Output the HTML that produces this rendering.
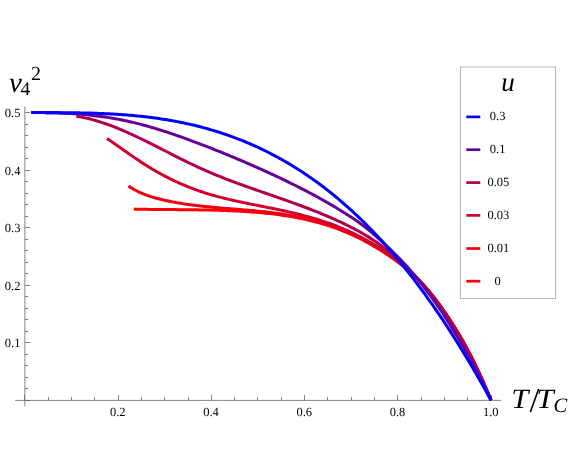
<!DOCTYPE html>
<html><head><meta charset="utf-8"><title>plot</title>
<style>html,body{margin:0;padding:0;background:#fff;}body{width:572px;height:468px;position:relative;overflow:hidden;font-family:"Liberation Serif",serif;}</style></head>
<body>
<svg width="572" height="468" viewBox="0 0 572 468" style="position:absolute;left:0;top:0;will-change:transform;text-rendering:geometricPrecision">
<g stroke="#666666" stroke-width="0.8" fill="none">
<line x1="15.2" y1="400.38" x2="501.1" y2="400.38"/>
<line x1="24.89" y1="106.5" x2="24.89" y2="406.2"/>
<line x1="24.50" y1="400.4" x2="24.50" y2="395.00"/>
<line x1="48.50" y1="400.4" x2="48.50" y2="397.10"/>
<line x1="71.50" y1="400.4" x2="71.50" y2="397.10"/>
<line x1="94.50" y1="400.4" x2="94.50" y2="397.10"/>
<line x1="118.50" y1="400.4" x2="118.50" y2="395.00"/>
<line x1="141.50" y1="400.4" x2="141.50" y2="397.10"/>
<line x1="164.50" y1="400.4" x2="164.50" y2="397.10"/>
<line x1="188.50" y1="400.4" x2="188.50" y2="397.10"/>
<line x1="211.50" y1="400.4" x2="211.50" y2="395.00"/>
<line x1="234.50" y1="400.4" x2="234.50" y2="397.10"/>
<line x1="257.50" y1="400.4" x2="257.50" y2="397.10"/>
<line x1="281.50" y1="400.4" x2="281.50" y2="397.10"/>
<line x1="304.50" y1="400.4" x2="304.50" y2="395.00"/>
<line x1="327.50" y1="400.4" x2="327.50" y2="397.10"/>
<line x1="351.50" y1="400.4" x2="351.50" y2="397.10"/>
<line x1="374.50" y1="400.4" x2="374.50" y2="397.10"/>
<line x1="397.50" y1="400.4" x2="397.50" y2="395.00"/>
<line x1="421.50" y1="400.4" x2="421.50" y2="397.10"/>
<line x1="444.50" y1="400.4" x2="444.50" y2="397.10"/>
<line x1="467.50" y1="400.4" x2="467.50" y2="397.10"/>
<line x1="491.50" y1="400.4" x2="491.50" y2="395.00"/>
<line x1="24.9" y1="400.50" x2="30.30" y2="400.50"/>
<line x1="24.9" y1="388.50" x2="28.20" y2="388.50"/>
<line x1="24.9" y1="377.50" x2="28.20" y2="377.50"/>
<line x1="24.9" y1="365.50" x2="28.20" y2="365.50"/>
<line x1="24.9" y1="354.50" x2="28.20" y2="354.50"/>
<line x1="24.9" y1="342.50" x2="30.30" y2="342.50"/>
<line x1="24.9" y1="331.50" x2="28.20" y2="331.50"/>
<line x1="24.9" y1="319.50" x2="28.20" y2="319.50"/>
<line x1="24.9" y1="308.50" x2="28.20" y2="308.50"/>
<line x1="24.9" y1="296.50" x2="28.20" y2="296.50"/>
<line x1="24.9" y1="285.50" x2="30.30" y2="285.50"/>
<line x1="24.9" y1="273.50" x2="28.20" y2="273.50"/>
<line x1="24.9" y1="262.50" x2="28.20" y2="262.50"/>
<line x1="24.9" y1="250.50" x2="28.20" y2="250.50"/>
<line x1="24.9" y1="239.50" x2="28.20" y2="239.50"/>
<line x1="24.9" y1="227.50" x2="30.30" y2="227.50"/>
<line x1="24.9" y1="216.50" x2="28.20" y2="216.50"/>
<line x1="24.9" y1="204.50" x2="28.20" y2="204.50"/>
<line x1="24.9" y1="193.50" x2="28.20" y2="193.50"/>
<line x1="24.9" y1="181.50" x2="28.20" y2="181.50"/>
<line x1="24.9" y1="170.50" x2="30.30" y2="170.50"/>
<line x1="24.9" y1="158.50" x2="28.20" y2="158.50"/>
<line x1="24.9" y1="147.50" x2="28.20" y2="147.50"/>
<line x1="24.9" y1="135.50" x2="28.20" y2="135.50"/>
<line x1="24.9" y1="124.50" x2="28.20" y2="124.50"/>
<line x1="24.9" y1="112.50" x2="30.30" y2="112.50"/>
</g>
<g fill="none" stroke-width="3.0" stroke-linecap="butt" stroke-linejoin="round">
<path d="M133.80,209.10 L135.80,209.14 L137.80,209.19 L139.80,209.23 L141.80,209.26 L143.80,209.29 L145.80,209.33 L147.80,209.35 L149.80,209.38 L151.80,209.41 L153.80,209.43 L155.80,209.45 L157.80,209.47 L159.80,209.49 L161.80,209.51 L163.80,209.53 L165.80,209.54 L167.80,209.56 L169.80,209.57 L171.80,209.59 L173.80,209.61 L175.80,209.62 L177.80,209.64 L179.80,209.65 L181.80,209.67 L183.80,209.69 L185.80,209.71 L187.80,209.73 L189.80,209.75 L191.80,209.77 L193.80,209.80 L195.80,209.82 L197.80,209.85 L199.80,209.88 L201.80,209.91 L203.80,209.95 L205.80,209.99 L207.80,210.03 L209.80,210.07 L211.80,210.12 L213.80,210.17 L215.80,210.22 L217.80,210.28 L219.80,210.34 L221.80,210.40 L223.80,210.47 L225.80,210.55 L227.80,210.63 L229.80,210.71 L231.80,210.80 L233.80,210.89 L235.80,210.99 L237.80,211.09 L239.80,211.20 L241.80,211.31 L243.80,211.43 L245.80,211.56 L247.80,211.69 L249.80,211.83 L251.80,211.98 L253.80,212.13 L255.80,212.29 L257.80,212.46 L259.80,212.63 L261.80,212.81 L263.80,213.00 L265.80,213.20 L267.80,213.41 L269.80,213.63 L271.80,213.85 L273.80,214.09 L275.80,214.34 L277.80,214.59 L279.80,214.86 L281.80,215.14 L283.80,215.43 L285.80,215.74 L287.80,216.05 L289.80,216.38 L291.80,216.72 L293.80,217.08 L295.80,217.44 L297.80,217.83 L299.80,218.22 L301.80,218.63 L303.80,219.06 L305.80,219.50 L307.80,219.96 L309.80,220.43 L311.80,220.92 L313.80,221.43 L315.80,221.95 L317.80,222.50 L319.80,223.05 L321.80,223.63 L323.80,224.23 L325.80,224.84 L327.80,225.48 L329.80,226.13 L331.80,226.80 L333.80,227.49 L335.80,228.21 L337.80,228.94 L339.80,229.70 L341.80,230.48 L343.80,231.27 L345.80,232.10 L347.80,232.94 L349.80,233.81 L351.80,234.70 L353.80,235.61 L355.80,236.55 L357.80,237.51 L359.80,238.50 L361.80,239.51 L363.80,240.54 L365.80,241.61 L367.80,242.70 L369.80,243.81 L371.80,244.95 L373.80,246.11 L375.80,247.30 L377.80,248.52 L379.80,249.76 L381.80,251.03 L383.80,252.32 L385.80,253.63 L387.80,254.97 L389.80,256.34 L391.80,257.73 L393.80,259.14 L395.80,260.57 L397.80,262.03 L399.80,263.52 L401.80,265.03 L403.80,266.58 L405.80,268.17 L407.80,269.80 L409.80,271.49 L411.80,273.24 L413.80,275.04 L415.80,276.92 L417.80,278.87 L419.80,280.90 L421.80,283.01 L423.80,285.20 L425.80,287.46 L427.80,289.80 L429.80,292.21 L431.80,294.69 L433.80,297.24 L435.80,299.85 L437.80,302.52 L439.80,305.25 L441.80,308.04 L443.80,310.89 L445.80,313.79 L447.80,316.75 L449.80,319.77 L451.80,322.85 L453.80,326.00 L455.80,329.22 L457.80,332.51 L459.80,335.88 L461.80,339.32 L463.80,342.85 L465.80,346.46 L467.80,350.15 L469.80,353.94 L471.80,357.82 L473.80,361.79 L475.80,365.86 L477.80,370.03 L479.80,374.31 L481.80,378.69 L483.80,383.18 L485.80,387.78 L487.80,392.50 L489.80,397.34 L491.00,400.30" stroke="#ff0000"/>
<path d="M128.50,186.10 L130.50,187.38 L132.50,188.59 L134.50,189.72 L136.50,190.77 L138.50,191.77 L140.50,192.70 L142.50,193.56 L144.50,194.38 L146.50,195.14 L148.50,195.85 L150.50,196.52 L152.50,197.14 L154.50,197.73 L156.50,198.28 L158.50,198.80 L160.50,199.30 L162.50,199.77 L164.50,200.23 L166.50,200.66 L168.50,201.08 L170.50,201.49 L172.50,201.88 L174.50,202.25 L176.50,202.62 L178.50,202.96 L180.50,203.30 L182.50,203.62 L184.50,203.93 L186.50,204.22 L188.50,204.51 L190.50,204.79 L192.50,205.05 L194.50,205.31 L196.50,205.55 L198.50,205.79 L200.50,206.02 L202.50,206.24 L204.50,206.45 L206.50,206.66 L208.50,206.86 L210.50,207.05 L212.50,207.24 L214.50,207.43 L216.50,207.61 L218.50,207.78 L220.50,207.95 L222.50,208.12 L224.50,208.29 L226.50,208.46 L228.50,208.62 L230.50,208.78 L232.50,208.94 L234.50,209.10 L236.50,209.26 L238.50,209.43 L240.50,209.59 L242.50,209.75 L244.50,209.92 L246.50,210.09 L248.50,210.26 L250.50,210.43 L252.50,210.61 L254.50,210.80 L256.50,210.98 L258.50,211.18 L260.50,211.37 L262.50,211.58 L264.50,211.79 L266.50,212.01 L268.50,212.23 L270.50,212.47 L272.50,212.71 L274.50,212.96 L276.50,213.22 L278.50,213.49 L280.50,213.77 L282.50,214.06 L284.50,214.36 L286.50,214.67 L288.50,214.99 L290.50,215.33 L292.50,215.68 L294.50,216.04 L296.50,216.42 L298.50,216.81 L300.50,217.21 L302.50,217.63 L304.50,218.07 L306.50,218.52 L308.50,218.99 L310.50,219.47 L312.50,219.98 L314.50,220.50 L316.50,221.03 L318.50,221.59 L320.50,222.17 L322.50,222.76 L324.50,223.38 L326.50,224.02 L328.50,224.67 L330.50,225.35 L332.50,226.05 L334.50,226.78 L336.50,227.52 L338.50,228.29 L340.50,229.08 L342.50,229.90 L344.50,230.74 L346.50,231.61 L348.50,232.50 L350.50,233.41 L352.50,234.35 L354.50,235.31 L356.50,236.30 L358.50,237.31 L360.50,238.34 L362.50,239.39 L364.50,240.47 L366.50,241.57 L368.50,242.68 L370.50,243.82 L372.50,244.98 L374.50,246.16 L376.50,247.36 L378.50,248.58 L380.50,249.82 L382.50,251.08 L384.50,252.36 L386.50,253.66 L388.50,254.98 L390.50,256.32 L392.50,257.70 L394.50,259.10 L396.50,260.55 L398.50,262.03 L400.50,263.55 L402.50,265.12 L404.50,266.73 L406.50,268.40 L408.50,270.12 L410.50,271.89 L412.50,273.73 L414.50,275.64 L416.50,277.60 L418.50,279.64 L420.50,281.74 L422.50,283.90 L424.50,286.12 L426.50,288.41 L428.50,290.76 L430.50,293.17 L432.50,295.64 L434.50,298.17 L436.50,300.76 L438.50,303.41 L440.50,306.12 L442.50,308.90 L444.50,311.75 L446.50,314.66 L448.50,317.64 L450.50,320.70 L452.50,323.82 L454.50,327.02 L456.50,330.29 L458.50,333.63 L460.50,337.06 L462.50,340.56 L464.50,344.14 L466.50,347.80 L468.50,351.55 L470.50,355.38 L472.50,359.30 L474.50,363.31 L476.50,367.41 L478.50,371.61 L480.50,375.92 L482.50,380.33 L484.50,384.84 L486.50,389.47 L488.50,394.21 L490.50,399.07 L491.00,400.30" stroke="#f0000f"/>
<path d="M106.85,138.40 L108.85,139.76 L110.85,141.14 L112.85,142.53 L114.85,143.92 L116.85,145.32 L118.85,146.72 L120.85,148.13 L122.85,149.54 L124.85,150.94 L126.85,152.35 L128.85,153.74 L130.85,155.13 L132.85,156.51 L134.85,157.88 L136.85,159.24 L138.85,160.58 L140.85,161.91 L142.85,163.22 L144.85,164.50 L146.85,165.77 L148.85,167.01 L150.85,168.22 L152.85,169.42 L154.85,170.59 L156.85,171.74 L158.85,172.86 L160.85,173.96 L162.85,175.04 L164.85,176.10 L166.85,177.14 L168.85,178.15 L170.85,179.14 L172.85,180.11 L174.85,181.06 L176.85,181.99 L178.85,182.90 L180.85,183.78 L182.85,184.65 L184.85,185.49 L186.85,186.31 L188.85,187.12 L190.85,187.90 L192.85,188.66 L194.85,189.41 L196.85,190.13 L198.85,190.83 L200.85,191.52 L202.85,192.18 L204.85,192.83 L206.85,193.45 L208.85,194.07 L210.85,194.66 L212.85,195.24 L214.85,195.80 L216.85,196.35 L218.85,196.89 L220.85,197.41 L222.85,197.92 L224.85,198.42 L226.85,198.90 L228.85,199.38 L230.85,199.85 L232.85,200.30 L234.85,200.75 L236.85,201.19 L238.85,201.62 L240.85,202.05 L242.85,202.47 L244.85,202.88 L246.85,203.29 L248.85,203.70 L250.85,204.10 L252.85,204.50 L254.85,204.89 L256.85,205.29 L258.85,205.68 L260.85,206.08 L262.85,206.47 L264.85,206.87 L266.85,207.26 L268.85,207.66 L270.85,208.06 L272.85,208.47 L274.85,208.88 L276.85,209.30 L278.85,209.72 L280.85,210.14 L282.85,210.57 L284.85,211.01 L286.85,211.46 L288.85,211.91 L290.85,212.37 L292.85,212.84 L294.85,213.32 L296.85,213.81 L298.85,214.30 L300.85,214.81 L302.85,215.33 L304.85,215.86 L306.85,216.40 L308.85,216.96 L310.85,217.52 L312.85,218.10 L314.85,218.69 L316.85,219.30 L318.85,219.92 L320.85,220.56 L322.85,221.21 L324.85,221.88 L326.85,222.56 L328.85,223.26 L330.85,223.98 L332.85,224.71 L334.85,225.47 L336.85,226.24 L338.85,227.03 L340.85,227.84 L342.85,228.67 L344.85,229.52 L346.85,230.40 L348.85,231.29 L350.85,232.21 L352.85,233.14 L354.85,234.10 L356.85,235.09 L358.85,236.10 L360.85,237.13 L362.85,238.18 L364.85,239.27 L366.85,240.37 L368.85,241.51 L370.85,242.66 L372.85,243.85 L374.85,245.06 L376.85,246.31 L378.85,247.58 L380.85,248.87 L382.85,250.20 L384.85,251.56 L386.85,252.95 L388.85,254.36 L390.85,255.81 L392.85,257.29 L394.85,258.81 L396.85,260.35 L398.85,261.93 L400.85,263.54 L402.85,265.19 L404.85,266.87 L406.85,268.60 L408.85,270.37 L410.85,272.19 L412.85,274.05 L414.85,275.97 L416.85,277.94 L418.85,279.97 L420.85,282.05 L422.85,284.20 L424.85,286.41 L426.85,288.69 L428.85,291.03 L430.85,293.45 L432.85,295.94 L434.85,298.50 L436.85,301.14 L438.85,303.86 L440.85,306.64 L442.85,309.49 L444.85,312.41 L446.85,315.38 L448.85,318.41 L450.85,321.50 L452.85,324.63 L454.85,327.82 L456.85,331.07 L458.85,334.38 L460.85,337.76 L462.85,341.21 L464.85,344.75 L466.85,348.37 L468.85,352.09 L470.85,355.90 L472.85,359.81 L474.85,363.82 L476.85,367.94 L478.85,372.17 L480.85,376.50 L482.85,380.95 L484.85,385.51 L486.85,390.20 L488.85,395.00 L490.85,399.93 L491.00,400.30" stroke="#d1002e"/>
<path d="M76.30,116.20 L78.30,116.52 L80.30,116.87 L82.30,117.25 L84.30,117.66 L86.30,118.11 L88.30,118.58 L90.30,119.07 L92.30,119.60 L94.30,120.15 L96.30,120.73 L98.30,121.33 L100.30,121.96 L102.30,122.61 L104.30,123.28 L106.30,123.98 L108.30,124.69 L110.30,125.43 L112.30,126.19 L114.30,126.97 L116.30,127.76 L118.30,128.57 L120.30,129.40 L122.30,130.25 L124.30,131.11 L126.30,131.99 L128.30,132.88 L130.30,133.78 L132.30,134.70 L134.30,135.63 L136.30,136.57 L138.30,137.52 L140.30,138.48 L142.30,139.45 L144.30,140.43 L146.30,141.41 L148.30,142.40 L150.30,143.40 L152.30,144.40 L154.30,145.41 L156.30,146.42 L158.30,147.44 L160.30,148.45 L162.30,149.47 L164.30,150.49 L166.30,151.51 L168.30,152.53 L170.30,153.55 L172.30,154.57 L174.30,155.58 L176.30,156.59 L178.30,157.60 L180.30,158.60 L182.30,159.60 L184.30,160.59 L186.30,161.57 L188.30,162.55 L190.30,163.51 L192.30,164.47 L194.30,165.42 L196.30,166.36 L198.30,167.28 L200.30,168.20 L202.30,169.10 L204.30,169.99 L206.30,170.86 L208.30,171.73 L210.30,172.58 L212.30,173.42 L214.30,174.26 L216.30,175.08 L218.30,175.89 L220.30,176.70 L222.30,177.49 L224.30,178.28 L226.30,179.06 L228.30,179.83 L230.30,180.59 L232.30,181.34 L234.30,182.09 L236.30,182.83 L238.30,183.57 L240.30,184.30 L242.30,185.03 L244.30,185.75 L246.30,186.47 L248.30,187.18 L250.30,187.89 L252.30,188.59 L254.30,189.29 L256.30,189.99 L258.30,190.69 L260.30,191.39 L262.30,192.08 L264.30,192.77 L266.30,193.47 L268.30,194.16 L270.30,194.85 L272.30,195.54 L274.30,196.24 L276.30,196.93 L278.30,197.63 L280.30,198.32 L282.30,199.02 L284.30,199.73 L286.30,200.43 L288.30,201.14 L290.30,201.85 L292.30,202.57 L294.30,203.29 L296.30,204.02 L298.30,204.75 L300.30,205.49 L302.30,206.23 L304.30,206.98 L306.30,207.74 L308.30,208.50 L310.30,209.27 L312.30,210.05 L314.30,210.84 L316.30,211.63 L318.30,212.44 L320.30,213.25 L322.30,214.07 L324.30,214.91 L326.30,215.75 L328.30,216.61 L330.30,217.47 L332.30,218.35 L334.30,219.24 L336.30,220.14 L338.30,221.06 L340.30,221.98 L342.30,222.93 L344.30,223.88 L346.30,224.85 L348.30,225.84 L350.30,226.84 L352.30,227.86 L354.30,228.90 L356.30,229.97 L358.30,231.05 L360.30,232.16 L362.30,233.30 L364.30,234.47 L366.30,235.66 L368.30,236.88 L370.30,238.14 L372.30,239.43 L374.30,240.75 L376.30,242.11 L378.30,243.51 L380.30,244.95 L382.30,246.43 L384.30,247.95 L386.30,249.51 L388.30,251.11 L390.30,252.76 L392.30,254.45 L394.30,256.17 L396.30,257.94 L398.30,259.74 L400.30,261.57 L402.30,263.44 L404.30,265.34 L406.30,267.28 L408.30,269.25 L410.30,271.25 L412.30,273.27 L414.30,275.33 L416.30,277.42 L418.30,279.54 L420.30,281.70 L422.30,283.91 L424.30,286.17 L426.30,288.48 L428.30,290.85 L430.30,293.28 L432.30,295.76 L434.30,298.31 L436.30,300.91 L438.30,303.57 L440.30,306.30 L442.30,309.08 L444.30,311.93 L446.30,314.85 L448.30,317.83 L450.30,320.87 L452.30,323.98 L454.30,327.16 L456.30,330.41 L458.30,333.73 L460.30,337.12 L462.30,340.58 L464.30,344.12 L466.30,347.74 L468.30,351.45 L470.30,355.25 L472.30,359.14 L474.30,363.13 L476.30,367.23 L478.30,371.43 L480.30,375.72 L482.30,380.12 L484.30,384.60 L486.30,389.18 L488.30,393.86 L490.30,398.61 L491.00,400.30" stroke="#b3004d"/>
<path d="M45.00,112.90 L47.00,112.90 L49.00,112.91 L51.00,112.93 L53.00,112.96 L55.00,112.99 L57.00,113.04 L59.00,113.09 L61.00,113.15 L63.00,113.22 L65.00,113.30 L67.00,113.39 L69.00,113.49 L71.00,113.60 L73.00,113.71 L75.00,113.84 L77.00,113.98 L79.00,114.12 L81.00,114.28 L83.00,114.45 L85.00,114.63 L87.00,114.82 L89.00,115.02 L91.00,115.23 L93.00,115.45 L95.00,115.68 L97.00,115.92 L99.00,116.18 L101.00,116.45 L103.00,116.73 L105.00,117.02 L107.00,117.32 L109.00,117.63 L111.00,117.96 L113.00,118.30 L115.00,118.65 L117.00,119.02 L119.00,119.39 L121.00,119.78 L123.00,120.19 L125.00,120.60 L127.00,121.03 L129.00,121.48 L131.00,121.94 L133.00,122.41 L135.00,122.89 L137.00,123.38 L139.00,123.89 L141.00,124.41 L143.00,124.94 L145.00,125.49 L147.00,126.04 L149.00,126.61 L151.00,127.19 L153.00,127.77 L155.00,128.37 L157.00,128.98 L159.00,129.60 L161.00,130.22 L163.00,130.86 L165.00,131.51 L167.00,132.16 L169.00,132.82 L171.00,133.49 L173.00,134.17 L175.00,134.86 L177.00,135.55 L179.00,136.25 L181.00,136.96 L183.00,137.67 L185.00,138.39 L187.00,139.12 L189.00,139.85 L191.00,140.59 L193.00,141.33 L195.00,142.08 L197.00,142.83 L199.00,143.59 L201.00,144.35 L203.00,145.12 L205.00,145.89 L207.00,146.66 L209.00,147.44 L211.00,148.22 L213.00,149.01 L215.00,149.80 L217.00,150.59 L219.00,151.39 L221.00,152.20 L223.00,153.00 L225.00,153.82 L227.00,154.63 L229.00,155.45 L231.00,156.28 L233.00,157.11 L235.00,157.94 L237.00,158.78 L239.00,159.63 L241.00,160.48 L243.00,161.33 L245.00,162.19 L247.00,163.05 L249.00,163.92 L251.00,164.79 L253.00,165.67 L255.00,166.55 L257.00,167.43 L259.00,168.33 L261.00,169.22 L263.00,170.12 L265.00,171.03 L267.00,171.94 L269.00,172.86 L271.00,173.78 L273.00,174.70 L275.00,175.63 L277.00,176.57 L279.00,177.51 L281.00,178.46 L283.00,179.42 L285.00,180.38 L287.00,181.34 L289.00,182.32 L291.00,183.30 L293.00,184.28 L295.00,185.28 L297.00,186.28 L299.00,187.29 L301.00,188.31 L303.00,189.34 L305.00,190.37 L307.00,191.42 L309.00,192.47 L311.00,193.53 L313.00,194.60 L315.00,195.68 L317.00,196.77 L319.00,197.87 L321.00,198.98 L323.00,200.10 L325.00,201.24 L327.00,202.38 L329.00,203.53 L331.00,204.70 L333.00,205.87 L335.00,207.06 L337.00,208.26 L339.00,209.47 L341.00,210.70 L343.00,211.94 L345.00,213.19 L347.00,214.45 L349.00,215.73 L351.00,217.03 L353.00,218.35 L355.00,219.70 L357.00,221.08 L359.00,222.49 L361.00,223.95 L363.00,225.45 L365.00,227.00 L367.00,228.59 L369.00,230.23 L371.00,231.91 L373.00,233.62 L375.00,235.37 L377.00,237.14 L379.00,238.94 L381.00,240.76 L383.00,242.60 L385.00,244.45 L387.00,246.31 L389.00,248.18 L391.00,250.08 L393.00,252.00 L395.00,253.95 L397.00,255.94 L399.00,257.97 L401.00,260.04 L403.00,262.16 L405.00,264.33 L407.00,266.55 L409.00,268.82 L411.00,271.14 L413.00,273.51 L415.00,275.91 L417.00,278.36 L419.00,280.84 L421.00,283.36 L423.00,285.91 L425.00,288.50 L427.00,291.12 L429.00,293.78 L431.00,296.48 L433.00,299.23 L435.00,302.03 L437.00,304.88 L439.00,307.79 L441.00,310.75 L443.00,313.78 L445.00,316.86 L447.00,319.99 L449.00,323.17 L451.00,326.39 L453.00,329.64 L455.00,332.92 L457.00,336.22 L459.00,339.55 L461.00,342.91 L463.00,346.31 L465.00,349.74 L467.00,353.22 L469.00,356.75 L471.00,360.33 L473.00,363.97 L475.00,367.68 L477.00,371.45 L479.00,375.31 L481.00,379.24 L483.00,383.26 L485.00,387.37 L487.00,391.58 L489.00,395.89 L491.00,400.30" stroke="#660099"/>
<path d="M31.10,112.60 L33.10,112.60 L35.10,112.60 L37.10,112.60 L39.10,112.59 L41.10,112.59 L43.10,112.59 L45.10,112.59 L47.10,112.59 L49.10,112.60 L51.10,112.60 L53.10,112.60 L55.10,112.61 L57.10,112.62 L59.10,112.63 L61.10,112.64 L63.10,112.65 L65.10,112.66 L67.10,112.68 L69.10,112.70 L71.10,112.72 L73.10,112.75 L75.10,112.78 L77.10,112.81 L79.10,112.84 L81.10,112.88 L83.10,112.92 L85.10,112.97 L87.10,113.01 L89.10,113.07 L91.10,113.12 L93.10,113.18 L95.10,113.25 L97.10,113.32 L99.10,113.40 L101.10,113.47 L103.10,113.56 L105.10,113.65 L107.10,113.74 L109.10,113.85 L111.10,113.95 L113.10,114.06 L115.10,114.18 L117.10,114.31 L119.10,114.44 L121.10,114.58 L123.10,114.72 L125.10,114.87 L127.10,115.03 L129.10,115.19 L131.10,115.36 L133.10,115.54 L135.10,115.73 L137.10,115.92 L139.10,116.12 L141.10,116.33 L143.10,116.55 L145.10,116.78 L147.10,117.01 L149.10,117.25 L151.10,117.51 L153.10,117.77 L155.10,118.04 L157.10,118.31 L159.10,118.60 L161.10,118.90 L163.10,119.21 L165.10,119.52 L167.10,119.85 L169.10,120.19 L171.10,120.54 L173.10,120.89 L175.10,121.26 L177.10,121.64 L179.10,122.03 L181.10,122.43 L183.10,122.84 L185.10,123.26 L187.10,123.69 L189.10,124.14 L191.10,124.60 L193.10,125.06 L195.10,125.54 L197.10,126.03 L199.10,126.54 L201.10,127.05 L203.10,127.58 L205.10,128.12 L207.10,128.67 L209.10,129.24 L211.10,129.82 L213.10,130.41 L215.10,131.01 L217.10,131.63 L219.10,132.26 L221.10,132.91 L223.10,133.57 L225.10,134.24 L227.10,134.92 L229.10,135.62 L231.10,136.34 L233.10,137.07 L235.10,137.81 L237.10,138.57 L239.10,139.34 L241.10,140.13 L243.10,140.93 L245.10,141.74 L247.10,142.58 L249.10,143.42 L251.10,144.29 L253.10,145.17 L255.10,146.06 L257.10,146.97 L259.10,147.90 L261.10,148.84 L263.10,149.80 L265.10,150.77 L267.10,151.76 L269.10,152.77 L271.10,153.80 L273.10,154.84 L275.10,155.90 L277.10,156.97 L279.10,158.07 L281.10,159.18 L283.10,160.31 L285.10,161.45 L287.10,162.62 L289.10,163.80 L291.10,165.00 L293.10,166.22 L295.10,167.46 L297.10,168.71 L299.10,169.99 L301.10,171.28 L303.10,172.59 L305.10,173.92 L307.10,175.27 L309.10,176.64 L311.10,178.03 L313.10,179.44 L315.10,180.87 L317.10,182.32 L319.10,183.78 L321.10,185.27 L323.10,186.78 L325.10,188.31 L327.10,189.86 L329.10,191.43 L331.10,193.02 L333.10,194.63 L335.10,196.26 L337.10,197.92 L339.10,199.60 L341.10,201.29 L343.10,203.01 L345.10,204.76 L347.10,206.52 L349.10,208.31 L351.10,210.12 L353.10,211.95 L355.10,213.81 L357.10,215.69 L359.10,217.59 L361.10,219.52 L363.10,221.47 L365.10,223.44 L367.10,225.44 L369.10,227.46 L371.10,229.51 L373.10,231.58 L375.10,233.68 L377.10,235.80 L379.10,237.95 L381.10,240.12 L383.10,242.32 L385.10,244.55 L387.10,246.80 L389.10,249.07 L391.10,251.37 L393.10,253.70 L395.10,256.05 L397.10,258.42 L399.10,260.83 L401.10,263.26 L403.10,265.71 L405.10,268.20 L407.10,270.71 L409.10,273.24 L411.10,275.80 L413.10,278.39 L415.10,281.01 L417.10,283.65 L419.10,286.32 L421.10,289.01 L423.10,291.74 L425.10,294.49 L427.10,297.26 L429.10,300.07 L431.10,302.90 L433.10,305.75 L435.10,308.64 L437.10,311.55 L439.10,314.49 L441.10,317.45 L443.10,320.44 L445.10,323.46 L447.10,326.51 L449.10,329.59 L451.10,332.69 L453.10,335.82 L455.10,338.97 L457.10,342.15 L459.10,345.37 L461.10,348.60 L463.10,351.87 L465.10,355.16 L467.10,358.48 L469.10,361.83 L471.10,365.21 L473.10,368.61 L475.10,372.04 L477.10,375.50 L479.10,378.98 L481.10,382.50 L483.10,386.04 L485.10,389.61 L487.10,393.21 L489.10,396.83 L491.00,400.30" stroke="#0000ff"/>
</g>
<rect x="460.5" y="67" width="95" height="231.5" fill="#fff" stroke="none"/>
<g stroke="#b6b6b6" stroke-width="1" fill="none"><line x1="460.5" y1="66.5" x2="460.5" y2="299"/><line x1="555.5" y1="66.5" x2="555.5" y2="299"/><line x1="460" y1="67" x2="556" y2="67"/><line x1="460" y1="298.5" x2="556" y2="298.5"/></g>
<g stroke-width="2.7" fill="none">
<line x1="466.3" y1="116.9" x2="480.3" y2="116.9" stroke="#0000ff"/>
<line x1="466.3" y1="149.7" x2="480.3" y2="149.7" stroke="#660099"/>
<line x1="466.3" y1="182.6" x2="480.3" y2="182.6" stroke="#b3004d"/>
<line x1="466.3" y1="215.4" x2="480.3" y2="215.4" stroke="#d1002e"/>
<line x1="466.3" y1="248.5" x2="480.3" y2="248.5" stroke="#f0000f"/>
<line x1="466.3" y1="281.2" x2="480.3" y2="281.2" stroke="#ff0000"/>
</g>
<g font-family="Liberation Serif, serif" font-size="12.5" fill="#000" text-anchor="middle">
<text x="497.6" y="120.2">0.3</text>
<text x="497.6" y="153.0">0.1</text>
<text x="498.40000000000003" y="185.9">0.05</text>
<text x="498.40000000000003" y="218.7">0.03</text>
<text x="498.40000000000003" y="252.2">0.01</text>
<text x="497.6" y="285.0">0</text>
</g>
<text x="508" y="91" font-family="Liberation Serif, serif" font-style="italic" font-size="27" text-anchor="middle">u</text>
<g font-family="Liberation Serif, serif" font-size="12.5" fill="#000">
<text x="117.79" y="415.6" text-anchor="middle">0.2</text>
<text x="211.03" y="415.6" text-anchor="middle">0.4</text>
<text x="304.27" y="415.6" text-anchor="middle">0.6</text>
<text x="397.51" y="415.6" text-anchor="middle">0.8</text>
<text x="490.75" y="415.6" text-anchor="middle">1.0</text>
<text x="20.4" y="347.26" text-anchor="end">0.1</text>
<text x="20.4" y="289.72" text-anchor="end">0.2</text>
<text x="20.4" y="232.18" text-anchor="end">0.3</text>
<text x="20.4" y="174.64" text-anchor="end">0.4</text>
<text x="20.4" y="117.10" text-anchor="end">0.5</text>
</g>
<g font-family="Liberation Serif, serif" fill="#000">
<text x="9" y="91.8" font-size="29" font-style="italic">v</text>
<text x="20.4" y="95.1" font-size="19.5">4</text>
<text x="31" y="79.8" font-size="20">2</text>
<text transform="translate(511.2,408) scale(1.1,1)" font-size="28" font-style="italic">T</text>
<line x1="530.4" y1="412.1" x2="538.6" y2="388.9" stroke="#000" stroke-width="1.6"/>
<text transform="translate(536.4,408) scale(1.1,1)" font-size="28" font-style="italic">T</text>
<text x="553.6" y="411.6" font-size="20.5" font-style="italic">C</text>
</g>
</svg>
</body></html>
